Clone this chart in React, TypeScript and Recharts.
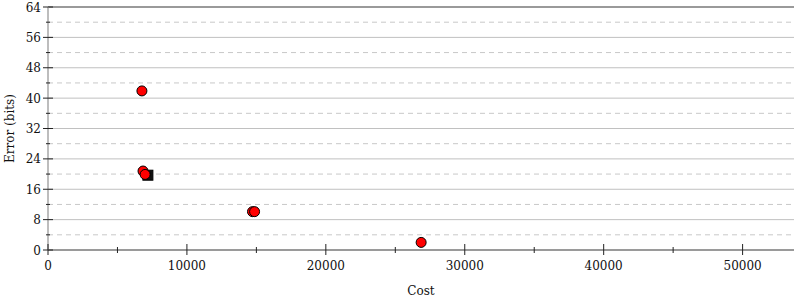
import React from 'react';
import { ScatterChart, Scatter, XAxis, YAxis, ReferenceLine } from 'recharts';

const redCost = [6760, 6840, 6990, 14720, 14870, 26860];
const redError = [41.9, 20.8, 19.9, 10.1, 10.1, 2.0];
const blackCost = [7190];
const blackError = [19.7];
const xTicks = [0, 5000, 10000, 15000, 20000, 25000, 30000, 35000, 40000, 45000, 50000];
const xMajor = [0, 10000, 20000, 30000, 40000, 50000];
const yTicks = [0, 4, 8, 12, 16, 20, 24, 28, 32, 36, 40, 44, 48, 52, 56, 60, 64];
const yMajor = [0, 8, 16, 24, 32, 40, 48, 56, 64];
const xMax = 53700;
const yMax = 64;

const redData = redCost.map((c, i) => ({ cost: c, err: redError[i] }));
const blackData = blackCost.map((c, i) => ({ cost: c, err: blackError[i] }));

const FONT = 'DejaVu Serif';

const XTick = (props: any) => {
  const { x, y, payload } = props;
  const major = xMajor.includes(payload.value);
  const up = major ? 6 : 3;
  const down = major ? 5 : 3;
  return (
    <g>
      <line x1={x} x2={x} y1={y - up} y2={y + down} stroke="#222" strokeWidth={1} />
      {major && (
        <text x={x} y={y + 20} textAnchor="middle" fontFamily={FONT} fontSize={12} fill="#111">
          {payload.value}
        </text>
      )}
    </g>
  );
};

const YTick = (props: any) => {
  const { x, y, payload } = props;
  const major = yMajor.includes(payload.value);
  const half = major ? 5 : 2;
  return (
    <g>
      <line x1={x - half} x2={x + half} y1={y} y2={y} stroke="#222" strokeWidth={1} />
      {major && (
        <text x={x - 7} y={y + 4.5} textAnchor="end" fontFamily={FONT} fontSize={12} fill="#111">
          {payload.value}
        </text>
      )}
    </g>
  );
};

const YTickRight = (props: any) => {
  const { x, y, payload } = props;
  const major = yMajor.includes(payload.value);
  const half = major ? 5 : 2;
  return <line x1={x - half} x2={x + half} y1={y} y2={y} stroke="#222" strokeWidth={1} />;
};

const RedDot = (props: any) => (
  <circle cx={props.cx} cy={props.cy} r={5} fill="#ff0000" stroke="#000" strokeWidth={1} />
);
const BlackSquare = (props: any) => (
  <rect x={props.cx - 5} y={props.cy - 5} width={10} height={10} fill="#111" stroke="#000" strokeWidth={1} />
);

export default function App() {
  return (
    <div style={{ position: 'absolute', left: 0, top: 0 }}>
      <ScatterChart width={800} height={300} margin={{ top: 7, right: 6, bottom: 0, left: 0 }}>
        {yTicks.map((v) => (
          <ReferenceLine
            key={'g' + v}
            y={v}
            stroke={yMajor.includes(v) ? '#c0c0c0' : '#c8c8c8'}
            strokeWidth={1}
            strokeDasharray={yMajor.includes(v) ? undefined : '5 4'}
            ifOverflow="visible"
          />
        ))}
        <ReferenceLine y={yMax} stroke="#9a9a9a" strokeWidth={2} ifOverflow="visible" />
        <XAxis
          type="number"
          dataKey="cost"
          domain={[0, xMax]}
          ticks={xTicks}
          interval={0}
          allowDataOverflow
          tickSize={0}
          tickMargin={0}
          tickLine={false}
          axisLine={{ stroke: '#9a9a9a', strokeWidth: 2 }}
          tick={<XTick />}
          height={50}
          label={{ value: 'Cost', position: 'insideBottom', offset: 5, style: { fontFamily: FONT, fontSize: 12, fill: '#111' } }}
        />
        <YAxis
          type="number"
          dataKey="err"
          domain={[0, yMax]}
          ticks={yTicks}
          interval={0}
          allowDataOverflow
          tickSize={0}
          tickMargin={0}
          tickLine={false}
          axisLine={{ stroke: '#bdbdbd', strokeWidth: 2 }}
          tick={<YTick />}
          width={48}
          label={{ value: 'Error (bits)', angle: -90, position: 'insideLeft', offset: 10, style: { fontFamily: FONT, fontSize: 12, fill: '#111', textAnchor: 'middle' } }}
        />
        <YAxis
          yAxisId="right"
          orientation="right"
          type="number"
          domain={[0, yMax]}
          ticks={yTicks}
          interval={0}
          allowDataOverflow
          tickSize={0}
          tickMargin={0}
          tickLine={false}
          axisLine={{ stroke: '#bdbdbd', strokeWidth: 2 }}
          tick={<YTickRight />}
          width={0}
        />
        <Scatter data={blackData} shape={<BlackSquare />} isAnimationActive={false} />
        <Scatter data={redData} shape={<RedDot />} isAnimationActive={false} />
      </ScatterChart>
    </div>
  );
}
